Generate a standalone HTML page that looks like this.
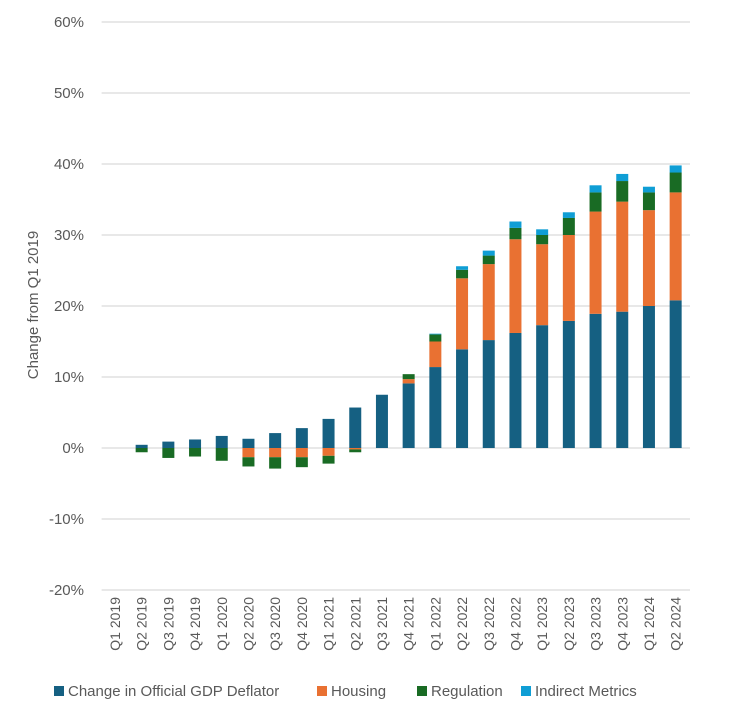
<!DOCTYPE html>
<html><head><meta charset="utf-8"><style>
body{margin:0;background:#fff;width:732px;height:716px;overflow:hidden;font-family:"Liberation Sans",sans-serif}
svg text{font-family:"Liberation Sans",sans-serif;fill:#595959}
</style></head><body>
<svg id="chart" width="732" height="716" xmlns="http://www.w3.org/2000/svg">
<g id="grid"></g>
<g id="yticks"></g>
<g id="bars"></g>
<g id="xticks"></g>
<text transform="translate(38,305) rotate(-90)" text-anchor="middle" font-size="15">Change from Q1 2019</text>
<g id="legend"></g>
</svg>
<script>
const categories=["Q1 2019","Q2 2019","Q3 2019","Q4 2019","Q1 2020","Q2 2020","Q3 2020","Q4 2020","Q1 2021","Q2 2021","Q3 2021","Q4 2021","Q1 2022","Q2 2022","Q3 2022","Q4 2022","Q1 2023","Q2 2023","Q3 2023","Q4 2023","Q1 2024","Q2 2024"];
const gdpDeflator=[0,0.45,0.9,1.2,1.7,1.3,2.1,2.8,4.1,5.7,7.5,9.1,11.4,13.9,15.2,16.2,17.3,17.9,18.9,19.2,20.0,20.8];
const housing=[0,0,0,0,0,-1.3,-1.3,-1.3,-1.1,-0.2,0,0.6,3.6,10.0,10.7,13.2,11.4,12.1,14.4,15.5,13.5,15.2];
const regulation=[0,-0.6,-1.4,-1.2,-1.8,-1.3,-1.6,-1.4,-1.1,-0.4,0,0.7,1.0,1.2,1.2,1.6,1.3,2.4,2.7,2.9,2.5,2.8];
const indirect=[0,0,0,0,0,0,0,0,0,0,0,0,0.1,0.5,0.7,0.9,0.8,0.8,1.0,1.0,0.8,1.0];
const yTicks=[-20,-10,0,10,20,30,40,50,60];
const seriesNames=["Change in Official GDP Deflator","Housing","Regulation","Indirect Metrics"];
const colors=["#156082","#E97132","#196B24","#0F9ED5"];
const NS="http://www.w3.org/2000/svg";
const left=101.6,right=689,step=(right-left)/categories.length,bw=12;
const y=v=>448-v*7.1;
const xc=i=>left+step*(i+0.5);
function mk(tag,attrs,parent){const e=document.createElementNS(NS,tag);for(const k in attrs)e.setAttribute(k,attrs[k]);parent.appendChild(e);return e;}
const grid=document.getElementById('grid'),yt=document.getElementById('yticks');
yTicks.forEach(t=>{
 const l=mk('line',{x1:left,x2:right+1,y1:y(t),y2:y(t),stroke:'#d9d9d9','stroke-width':1.3},grid);
 
 
 const tx=mk('text',{x:84,y:y(t)+5,'text-anchor':'end','font-size':15},yt);
 tx.textContent=t+'%';
 
 
});
const bars=document.getElementById('bars');
const series=[gdpDeflator,housing,regulation,indirect];
categories.forEach((c,i)=>{
 let pos=0,neg=0;
 series.forEach((s,k)=>{
  const v=s[i]; if(!v) return;
  let a,b; if(v>=0){a=pos;b=pos+v;pos=b;}else{a=neg;b=neg+v;neg=b;}
  const r=mk('rect',{x:xc(i)-bw/2,y:Math.min(y(a),y(b)),width:bw,height:Math.abs(y(a)-y(b)),fill:colors[k]},bars);
  
  
 });
 const tx=mk('text',{transform:`translate(${xc(i)+5},597) rotate(-90)`,'text-anchor':'end','font-size':14},document.getElementById('xticks'));
 tx.textContent=c;
 
 
});
const lg=document.getElementById('legend');
const lx=[54,317,417,521];
seriesNames.forEach((n,k)=>{
 const g=mk('g',{},lg);
 
 
 mk('rect',{x:lx[k],y:686,width:10,height:10,fill:colors[k]},g);
 const t=mk('text',{x:lx[k]+14,y:696,'font-size':15},g);t.textContent=n;
});
</script>
</body></html>
